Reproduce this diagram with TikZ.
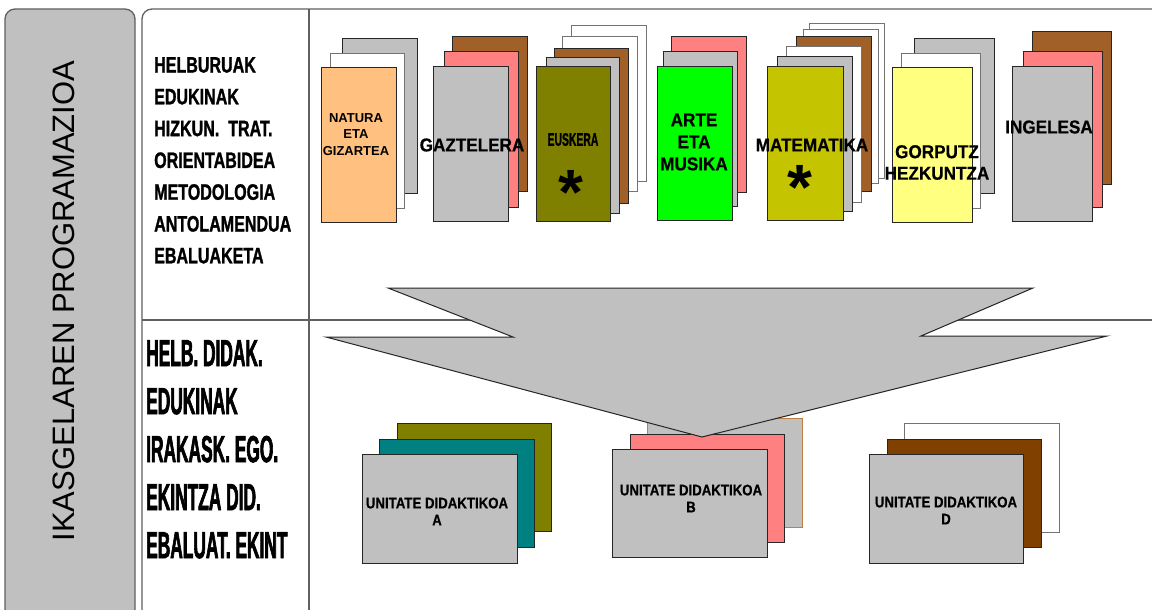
\documentclass[tikz,border=0pt]{standalone}
\usepackage{fontspec}
\setmainfont{Liberation Sans}
\newfontfamily\fTop[FakeStretch=0.72,FakeBold=1.2]{Liberation Sans}
\newfontfamily\fBot[FakeStretch=0.46,FakeBold=1.6]{Liberation Sans}
\newfontfamily\fCard[FakeStretch=0.92,FakeBold=0.6]{Liberation Sans}
\newfontfamily\fEus[FakeStretch=0.57,FakeBold=1.0]{Liberation Sans}
\newfontfamily\fUni[FakeStretch=0.86,FakeBold=0.6]{Liberation Sans}
\definecolor{cgray}{RGB}{192,192,192}
\definecolor{corange}{RGB}{255,192,128}
\definecolor{cbrown}{RGB}{160,96,40}
\definecolor{cpink}{RGB}{255,128,128}
\definecolor{colive}{RGB}{128,128,0}
\definecolor{cgreen}{RGB}{0,255,0}
\definecolor{cyel}{RGB}{196,196,0}
\definecolor{cly}{RGB}{255,255,128}
\definecolor{cteal}{RGB}{0,128,128}
\definecolor{cdbrown}{RGB}{128,64,0}
\definecolor{cbord}{RGB}{192,128,64}
\definecolor{cframe}{RGB}{96,96,96}
\newcommand\crd[3]{\draw[card,fill=#1] #2 rectangle #3;}
\newcommand\wcrd[2]{\draw[wcard] #1 rectangle #2;}
\begin{document}
\begin{tikzpicture}[x=1pt,y=-1pt,
  card/.style={draw=black!85,line width=1pt},
  wcard/.style={draw=black!55,fill=white,line width=1pt},
  frame/.style={draw=cframe,line width=1.3pt},
  lbl/.style={inner sep=0pt,align=center},
  cardfont/.style={font=\fCard\bfseries\fontsize{18.6}{21.5}\selectfont},
  unifont/.style={font=\fUni\bfseries\fontsize{15.4}{17}\selectfont},
  astfont/.style={font=\bfseries\fontsize{64}{64}\selectfont,inner sep=0pt,anchor=base}]
\useasboundingbox (0,0) rectangle (1152,610);
\clip (0,0) rectangle (1152,610);
\fill[white] (0,0) rectangle (1152,610);

% left gray box and frame
\draw[frame,fill=cgray,rounded corners=10pt] (5,660) -- (5,9) -- (135,9) -- (135,660);
\draw[frame,rounded corners=10pt] (142,660) -- (142,9) -- (1180,9);
\draw[frame] (309,9) -- (309,660);
\draw[frame] (142,320) -- (1180,320);

% title
\node[inner sep=0pt,rotate=90,font=\fontsize{31}{31}\selectfont] (title) at (64,301) {IKASGELAREN PROGRAMAZIOA};

% lists
\node[inner sep=0pt,anchor=north west,align=left,font=\fTop\bfseries\fontsize{22.3}{31.8}\selectfont] (toplist) at (154,57)
  {HELBURUAK\\EDUKINAK\\HIZKUN.\ \ TRAT.\\ORIENTABIDEA\\METODOLOGIA\\ANTOLAMENDUA\\EBALUAKETA};
\node[inner sep=0pt,anchor=north west,align=left,font=\fBot\bfseries\fontsize{37.7}{48}\selectfont] (botlist) at (146,340)
  {HELB. DIDAK.\\EDUKINAK\\IRAKASK. EGO.\\EKINTZA DID.\\EBALUAT. EKINT};

% NATURA
\crd{cgray}{(342,39)}{(417,193)}
\wcrd{(330,54)}{(404,208)}
\crd{corange}{(321,68)}{(396,222)}
\node[lbl,font=\bfseries\fontsize{13}{16.7}\selectfont] (natura) at (356,134.5) {NATURA\\ETA\\GIZARTEA};

% GAZTELERA
\crd{cbrown}{(452,37)}{(527,191)}
\crd{cpink}{(444,52)}{(518,207)}
\crd{cgray}{(433,67)}{(508,221)}
\node[lbl,cardfont] (gaztelera) at (472,145) {GAZTELERA};

% EUSKERA
\wcrd{(571,26)}{(646,181)}
\wcrd{(562,37)}{(637,191)}
\crd{cbrown}{(554,49)}{(628,203)}
\crd{cgray}{(546,58)}{(619,213)}
\crd{colive}{(536,67)}{(610,221)}
\node[lbl,font=\fEus\bfseries\fontsize{18.2}{20}\selectfont] (euskera) at (573,139.5) {EUSKERA};
\node[astfont] (ast1) at (571,214) {*};

% ARTE
\crd{cpink}{(671,37)}{(746,192)}
\crd{cgray}{(663,52)}{(737,206)}
\crd{cgreen}{(657,67)}{(732,220)}
\node[lbl,font=\fCard\bfseries\fontsize{18.6}{22}\selectfont] (arte) at (694,142) {ARTE\\ETA\\MUSIKA};

% MATEMATIKA
\wcrd{(809,24)}{(884,178)}
\wcrd{(803,30)}{(878,183)}
\crd{cbrown}{(796,37)}{(871,191)}
\wcrd{(786,47)}{(861,202)}
\crd{cgray}{(777,57)}{(852,211)}
\crd{cyel}{(767,67)}{(843,220)}
\node[lbl,cardfont] (matematika) at (812,145) {MATEMATIKA};
\node[astfont] (ast2) at (800,209) {*};

% GORPUTZ
\crd{cgray}{(914,39)}{(994,193)}
\wcrd{(901,54)}{(980,208)}
\crd{cly}{(892,68)}{(972,222)}
\node[lbl,cardfont] (gorputz) at (937,162.5) {GORPUTZ\\HEZKUNTZA};

% INGELESA
\crd{cbrown}{(1032,32)}{(1111,184)}
\crd{cpink}{(1023,52)}{(1102,207)}
\crd{cgray}{(1012,67)}{(1092,221)}
\node[lbl,cardfont] (ingelesa) at (1049,127) {INGELESA};

% UNIT A
\crd{colive}{(397,423)}{(551,531)}
\crd{cteal}{(379,439)}{(534,547)}
\crd{cgray}{(362,454)}{(517,563)}
\node[lbl,unifont] (unita) at (437,511.5) {UNITATE DIDAKTIKOA\\A};

% UNIT B
\draw[line width=1pt,draw=cbord,fill=cgray] (647,418) rectangle (802,527);
\crd{cpink}{(630,434)}{(784,542)}
\crd{cgray}{(612,449)}{(767,557)}
\node[lbl,unifont] (unitb) at (691,498.5) {UNITATE DIDAKTIKOA\\B};

% UNIT D
\wcrd{(904,423)}{(1059,532)}
\crd{cdbrown}{(887,439)}{(1041,547)}
\crd{cgray}{(869,454)}{(1023,563)}
\node[lbl,unifont] (unitd) at (946,510.5) {UNITATE DIDAKTIKOA\\D};

% big arrow
\draw[draw=black!85,line width=1pt,fill=cgray,line join=miter]
  (388,288) -- (1033,288) -- (921,336) -- (1107,336) -- (702,437) -- (326,337) -- (513,337) -- cycle;
\end{tikzpicture}
\end{document}
